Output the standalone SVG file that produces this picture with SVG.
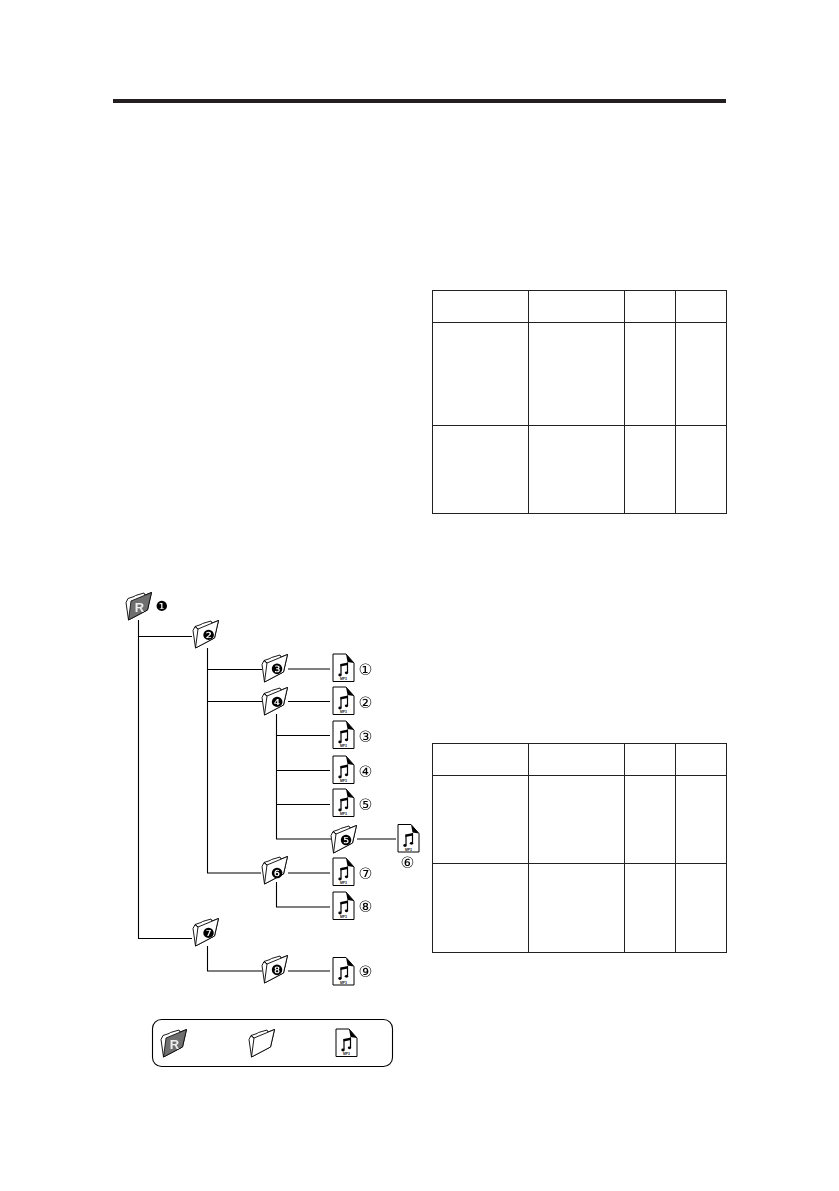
<svg xmlns="http://www.w3.org/2000/svg" xmlns:xlink="http://www.w3.org/1999/xlink" width="839" height="1191" viewBox="0 0 839 1191">
<style>
.ln{fill:none;stroke:#000;stroke-width:1.1}
.tb{fill:none;stroke:#222;stroke-width:1}
.fo{fill:#fff;stroke:#000;stroke-width:.9;stroke-linejoin:miter}
.mp{font:bold 3.4px "Liberation Sans",Arial,sans-serif;text-anchor:middle;fill:#222}
.cn{font:15.500px "DejaVu Sans",sans-serif;text-anchor:middle;filter:url(#gray)}
.bn{font:14px "DejaVu Sans",sans-serif;text-anchor:middle;filter:url(#gray)}
.r{font:bold 13px "Liberation Sans",Arial,sans-serif;text-anchor:middle;fill:#eee;filter:url(#gray)}
</style>
<defs>
<filter id="gray" x="-20%" y="-20%" width="140%" height="140%"><feOffset dx="0" dy="0"/></filter>
<g id="folder">
<path class="fo" d="M2.500 28L0 10.500 2 6.500 8 4.500 9.500 3.500 18 1 19 3 25.500 .5 21.500 18 2.500 28Z"/>
<path class="fo" d="M2 6.500L5 9 25.500 .5 21.500 18 2.500 28 5 9Z"/>
</g>
<g id="rootfolder">
<path class="fo" d="M2.500 28L0 10.500 2 6.500 8 4.500 9.500 3.500 18 1 19 3 25.500 .5 21.500 18 2.500 28Z"/>
<path d="M5 9L25.500 .5 21.500 18 2.500 28Z" fill="#6f6f6f" stroke="#000" stroke-width=".8"/>
<text class="r" x="13.500" y="20">R</text>
</g>
<g id="file">
<path d="M.5.500H13.500L21.500 9.500V28H.5Z" fill="#fff" stroke="#000" stroke-width="1"/>
<path d="M13.500.500L21.500 9.500 15 8.500Z" fill="#000"/>
<path d="M8.500 10.500V21M15 9V19" fill="none" stroke="#000" stroke-width="1.200"/>
<path d="M8 10.500L15.500 9V11.500L8 13Z" fill="#000"/>
<ellipse cx="7.500" cy="21.500" rx="1.700" ry="1.400" fill="#000"/>
<ellipse cx="14" cy="19.300" rx="1.700" ry="1.400" fill="#000"/>
<text class="mp" x="11" y="26.700">MP3</text>
</g>
</defs>
<rect width="839" height="1191" fill="#fff"/>
<rect id="top-rule" x="113" y="99" width="613" height="4" fill="#231f20"/>

<g id="connectors" class="ln">
<path d="M138.500 620V938.500H192M138.500 636.500H192"/>
<path d="M207.500 648V873H261M207.500 669.500H262M207.500 701.500H262"/>
<path d="M288 669H330M288 701.500H330"/>
<path d="M276.500 714V839H331M276.500 735.500H330M276.500 770.500H330M276.500 804.500H330"/>
<path d="M357 839H396"/>
<path d="M288 873H330M276.500 882V907H330"/>
<path d="M207.500 946V971H262M288 971H330"/>
</g>

<g id="folder-1"><use xlink:href="#rootfolder" x="126" y="592"/><text class="bn" x="161.700" y="610.500">❶</text></g>
<g id="folder-2"><use xlink:href="#folder" x="193" y="620"/><text class="bn" x="208.500" y="639.500">❷</text></g>
<g id="folder-3"><use xlink:href="#folder" x="262" y="654"/><text class="bn" x="277" y="673.500">❸</text></g>
<g id="folder-4"><use xlink:href="#folder" x="262" y="687"/><text class="bn" x="277" y="706.500">❹</text></g>
<g id="folder-5"><use xlink:href="#folder" x="331" y="825"/><text class="bn" x="346" y="844.500">❺</text></g>
<g id="folder-6"><use xlink:href="#folder" x="262" y="856"/><text class="bn" x="277" y="877.500">❻</text></g>
<g id="folder-7"><use xlink:href="#folder" x="193" y="918"/><text class="bn" x="208.500" y="937.500">❼</text></g>
<g id="folder-8"><use xlink:href="#folder" x="262" y="955"/><text class="bn" x="277" y="974.500">❽</text></g>

<g id="file-1"><use xlink:href="#file" x="332.500" y="653.500"/><text class="cn" x="365.500" y="674.500">①</text></g>
<g id="file-2"><use xlink:href="#file" x="332.500" y="686.500"/><text class="cn" x="365.500" y="707.500">②</text></g>
<g id="file-3"><use xlink:href="#file" x="332.500" y="720.500"/><text class="cn" x="365.500" y="741.500">③</text></g>
<g id="file-4"><use xlink:href="#file" x="332.500" y="755.500"/><text class="cn" x="365.500" y="776.500">④</text></g>
<g id="file-5"><use xlink:href="#file" x="332.500" y="788.500"/><text class="cn" x="365.500" y="809.500">⑤</text></g>
<g id="file-6"><use xlink:href="#file" x="397.500" y="824"/><text class="cn" x="407.500" y="867.500">⑥</text></g>
<g id="file-7"><use xlink:href="#file" x="332.500" y="857.500"/><text class="cn" x="365.500" y="879">⑦</text></g>
<g id="file-8"><use xlink:href="#file" x="332.500" y="891.500"/><text class="cn" x="365.500" y="912">⑧</text></g>
<g id="file-9"><use xlink:href="#file" x="332.500" y="957"/><text class="cn" x="365.500" y="976.500">⑨</text></g>

<g id="legend">
<rect x="152.500" y="1019.500" width="240" height="47" rx="9" fill="none" stroke="#000" stroke-width="1.100"/>
<use xlink:href="#rootfolder" x="161" y="1029"/>
<use xlink:href="#folder" x="249" y="1029"/>
<use xlink:href="#file" x="335.500" y="1028.500"/>
</g>

<g id="table-1" class="tb">
<rect x="432.500" y="290.500" width="294" height="223"/>
<path d="M528.500 290.500V513.500M624.500 290.500V513.500M675.500 290.500V513.500M432.500 322.500H726.500M432.500 425.500H726.500"/>
</g>
<g id="table-2" class="tb">
<rect x="432.500" y="743.500" width="294" height="209"/>
<path d="M528.500 743.500V952.500M624.500 743.500V952.500M675.500 743.500V952.500M432.500 775.500H726.500M432.500 863.500H726.500"/>
</g>
</svg>
